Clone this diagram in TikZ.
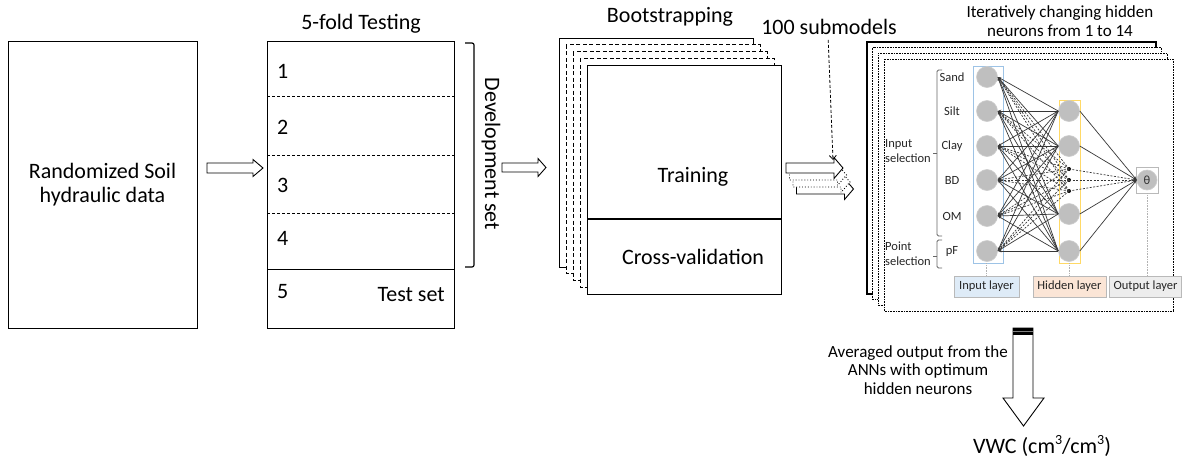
\documentclass[tikz,border=0pt]{standalone}
\usepackage{fontspec}
\setmainfont{Carlito}
\usetikzlibrary{arrows.meta}
\definecolor{nfill}{RGB}{191,191,191}
\definecolor{nedge}{RGB}{205,205,205}
\definecolor{inblue}{RGB}{157,195,230}
\definecolor{hidyel}{RGB}{255,217,102}
\definecolor{labblue}{RGB}{222,235,247}
\definecolor{laborange}{RGB}{251,229,214}
\definecolor{labgray}{RGB}{237,237,237}
\definecolor{labedge}{RGB}{185,185,185}
\definecolor{wire}{RGB}{55,55,55}
\newcommand\supthree{\raisebox{0.38em}{\fontsize{14}{14}\selectfont 3}}
\begin{document}
\begin{tikzpicture}[x=1pt,y=-1pt,
  big/.style={font=\fontsize{22}{25}\selectfont,inner sep=0pt},
  mid/.style={font=\fontsize{17}{19}\selectfont,inner sep=0pt},
  small/.style={font=\fontsize{12.5}{15}\selectfont,inner sep=0pt,text=black!85},
  databox/.style={draw=black,line width=1pt,fill=white,inner sep=0pt},
  barrow/.style={draw=black,line width=0.9pt,fill=white,line join=miter},
  neuron/.style={circle,fill=nfill,draw=nedge,line width=0.6pt,minimum size=21pt,inner sep=0pt},
  dotn/.style={circle,fill=black,minimum size=4pt,inner sep=0pt},
  wireline/.style={draw=wire,line width=0.7pt},
  dwire/.style={draw=wire,line width=0.7pt,dash pattern=on 2pt off 1.5pt},
  tipin/.style={-{Stealth[length=3.5pt,width=2.6pt]}},
  laybox/.style={draw=labedge,line width=0.8pt,minimum height=21pt,inner sep=0pt,font=\fontsize{12.5}{15}\selectfont,text=black!85},
  guide/.style={draw=gray!60,line width=0.6pt,dash pattern=on 0.8pt off 0.8pt},
  foldline/.style={line width=0.8pt,dash pattern=on 3pt off 2pt}
]
\useasboundingbox (0,0) rectangle (1187,469);

% ---------- raw data ----------
\node[databox,minimum width=189pt,minimum height=287pt,font=\fontsize{22}{23.5}\selectfont,align=center] (raw) at (102.5,184.5) {Randomized Soil\\hydraulic data};

\draw[barrow] (207,163) -- (253,163) -- (253,159.5) -- (263,168) -- (253,176.5) -- (253,173) -- (207,173) -- cycle;

% ---------- 5-fold ----------
\node[big] (foldtitle) at (361,24) {5-fold Testing};
\node[databox,minimum width=187pt,minimum height=287pt] (fold) at (360.5,184.5) {};
\draw[foldline] (267,96) -- (454,96);
\draw[foldline] (267,155) -- (454,155);
\draw[foldline] (267,213) -- (454,213);
\draw[line width=1pt] (267,269) -- (454,269);
\node[big,anchor=west] (f1) at (277,71) {1};
\node[big,anchor=west] (f2) at (277,127) {2};
\node[big,anchor=west] (f3) at (277,185) {3};
\node[big,anchor=west] (f4) at (277,238) {4};
\node[big,anchor=west] (f5) at (277,292) {5};
\node[big,anchor=east] (testset) at (445,295) {Test set};
\draw[line width=1.2pt,rounded corners=2pt] (465,43) -- (474,43) -- (474,267) -- (465,267);
\node[big,rotate=-90] (dev) at (491,154) {Development set};

\draw[barrow] (502,163) -- (538,163) -- (538,158.5) -- (546,167.5) -- (538,176.5) -- (538,172) -- (502,172) -- cycle;

% ---------- bootstrapping ----------
\node[big] (boottitle) at (670,17) {Bootstrapping};
\draw[line width=0.9pt,fill=white] (559,38) rectangle ++(194,229);
\foreach \k in {3,2,1}
  \draw[line width=0.9pt,fill=white,dash pattern=on 4pt off 2.5pt] (587-7*\k,65-6.75*\k) rectangle ++(194,229);
\node[databox,minimum width=194pt,minimum height=229pt] (boot) at (684,179.5) {};
\draw[line width=1.5pt] (587,219) -- (781,219);
\node[big] (train) at (693,177) {Training};
\node[big] (cv) at (693,257) {Cross-validation};

% ---------- stacked arrows ----------
\foreach \k/\st in {3/solid,2/dotted,1/dotted,0/solid}
  \draw[barrow,\st,shift={(3.5*\k,7*\k)}] (786,163) -- (834,163) -- (834,157.5) -- (843,168) -- (834,178.5) -- (834,173) -- (786,173) -- cycle;
\node[big] (sub) at (829,27) {100 submodels};
\coordinate (stacktip) at (833,160);
\draw[line width=0.8pt,dash pattern=on 3pt off 2pt,-{Straight Barb[length=4pt,width=7pt]},shorten <=5pt] (sub.south -| 828,0) -- (stacktip);

% ---------- NN panels ----------
\node[mid,align=center] (nntitle) at (1060,21.5) {Iteratively changing hidden\\neurons from 1 to 14};
\draw[line width=1.1pt,fill=white] (867,42) rectangle ++(289,252);
\foreach \k in {2,1,0}
  \draw[line width=0.8pt,fill=white,dash pattern=on 0.8pt off 0.8pt] (884-5.7*\k,59-5.7*\k) rectangle ++(289,252);

% layer frames
\node[draw=inblue,line width=0.9pt,minimum width=30pt,minimum height=197pt,inner sep=0pt] (inrect) at (988,164.5) {};
\node[draw=hidyel,line width=0.9pt,minimum width=21pt,minimum height=163pt,inner sep=0pt] (hidrect) at (1069.5,181.5) {};

% input neurons and labels
\foreach \n/\y/\t in {1/77/Sand,2/111/Silt,3/146/Clay,4/180/BD,5/216/OM,6/251/pF}{
  \node[neuron] (i\n) at (987,\y) {};
  \node[small] (l\n) at (952,\y) {\t};
}
% hidden neurons
\foreach \n/\y in {1/111,2/146,3/214,4/251}
  \node[neuron] (h\n) at (1069,\y) {};
\foreach \n/\y in {1/169,2/180,3/191}
  \node[dotn] (d\n) at (1069,\y) {};
% output
\node[draw=labedge,line width=0.8pt,minimum width=22pt,minimum height=26pt,inner sep=0pt] (obox) at (1147,180) {};
\node[neuron,minimum size=20pt,font=\fontsize{12.5}{15}\selectfont,text=black!80] (o) at (1147,180) {θ};

% connections
\foreach \a in {1,...,6}{
  \foreach \b in {1,...,4}
    \draw[wireline,tipin] (h\b.west) -- (i\a.east);
  \foreach \b in {1,2,3}
    \draw[dwire,tipin] (d\b.center) -- (i\a.east);
}
\foreach \b in {1,...,4}
  \draw[wireline,tipin] (h\b.east) -- (o.west);
\foreach \b in {1,2,3}
  \draw[dwire,tipin] (d\b.center) -- (o.west);

% selection brackets
\draw[gray!80!black,line width=0.8pt,rounded corners=1.5pt] (942,70) -- (937,70) -- (937,236) -- (942,236);
\draw[gray!80!black,line width=0.8pt] (937,153) -- (933,153);
\draw[gray!80!black,line width=0.8pt,rounded corners=1.5pt] (942,240) -- (937,240) -- (937,268) -- (942,268);
\draw[gray!80!black,line width=0.8pt] (937,256) -- (933,256);
\node[small,anchor=west,align=left] (insel) at (885,151.5) {Input\\selection};
\node[small,anchor=west,align=left] (ptsel) at (885,253.5) {Point\\selection};

% layer labels
\node[laybox,fill=labblue,minimum width=65pt] (inlab) at (986.5,286.5) {Input layer};
\node[laybox,fill=laborange,minimum width=73pt] (hidlab) at (1069.5,286.5) {Hidden layer};
\node[laybox,fill=labgray,minimum width=72pt] (outlab) at (1145.5,286.5) {Output layer};
\draw[guide] (inrect.south -| inlab.north) -- (inlab.north);
\draw[guide] (hidrect.south) -- (hidlab.north -| hidrect.south);
\draw[guide] (obox.south) -- (outlab.north -| obox.south);

% ---------- output arrow ----------
\draw[barrow] (1013,328) -- (1013,398) -- (1003,398) -- (1023.5,426) -- (1044,398) -- (1033,398) -- (1033,328) -- cycle;
\fill[black] (1013,328) rectangle (1033,334.5);
\draw[gray,line width=1.4pt] (1013,331.2) -- (1033,331.2);
\node[mid,align=center,font=\fontsize{17}{18.5}\selectfont] (avg) at (918,370) {Averaged output from the\\ANNs with optimum\\hidden neurons};
\node[big] (vwc) at (1042,446) {VWC (cm\supthree/cm\supthree)};
\end{tikzpicture}
\end{document}
